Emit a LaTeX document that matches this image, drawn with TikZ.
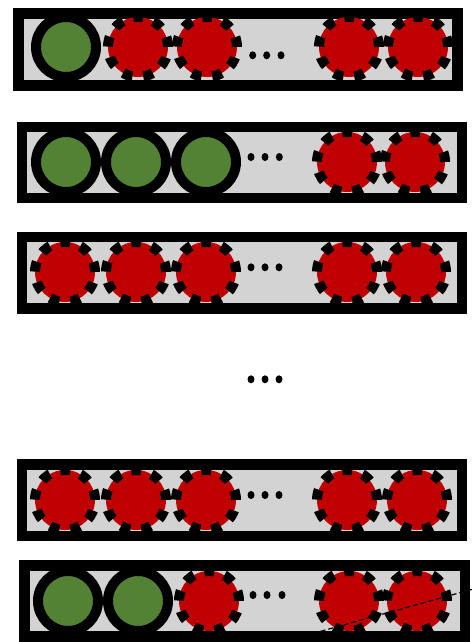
\documentclass[tikz,border=0pt]{standalone}
\usetikzlibrary{shapes.geometric}
\definecolor{boxgray}{HTML}{D3D3D3}
\definecolor{okgreen}{HTML}{548235}
\definecolor{badred}{HTML}{C00000}
\tikzset{
  rowbox/.style={draw=black, fill=boxgray, line width=10.5pt, inner sep=0pt, outer sep=0pt, rectangle},
  goodc/.style={circle, draw=black, fill=okgreen, line width=10pt, minimum size=60pt, inner sep=0pt},
  badc/.style={circle, draw=black, fill=badred, line width=10pt, minimum size=60pt, inner sep=0pt, dash pattern=on 10pt off 10.94pt},
  dotc/.style={ellipse, fill=black, minimum width=7pt, minimum height=8pt, inner sep=0pt},
  cutline/.style={draw=black, line width=1.2pt, dash pattern=on 5pt off 3pt}
}
\begin{document}
\begin{tikzpicture}[x=1pt, y=-1pt]
\useasboundingbox (0,0) rectangle (474,642);
% row boxes
\node[rowbox, minimum width=439pt, minimum height=72pt] (b1) at (238,49.5) {};
\node[rowbox, minimum width=440pt, minimum height=71pt] (b2) at (242,162.5) {};
\node[rowbox, minimum width=440pt, minimum height=71.5pt] (b3) at (242,272.75) {};
\node[rowbox, minimum width=440pt, minimum height=71.5pt] (b4) at (242,500.25) {};
\node[rowbox, minimum width=440.5pt, minimum height=71pt] (b5) at (244.75,601) {};
% row 1
\node[goodc] (c11) at (66,47) {};
\node[badc] (c12) at (138,47) {};
\node[badc] (c13) at (207,47) {};
\node[badc] (c14) at (349,47) {};
\node[badc] (c15) at (418,47) {};
\node[dotc] (d11) at (252.7,55.3) {};
\node[dotc] (d12) at (266.7,55.3) {};
\node[dotc] (d13) at (281,55.3) {};
% row 2
\node[goodc] (c21) at (66,162) {};
\node[goodc] (c22) at (136,162) {};
\node[goodc] (c23) at (206,162) {};
\node[badc] (c24) at (347,162) {};
\node[badc] (c25) at (415,162) {};
\node[dotc] (d21) at (251,157) {};
\node[dotc] (d22) at (265,157) {};
\node[dotc] (d23) at (279.3,157) {};
% row 3
\node[badc] (c31) at (65,272) {};
\node[badc] (c32) at (136,272) {};
\node[badc] (c33) at (206,272) {};
\node[badc] (c34) at (347,272) {};
\node[badc] (c35) at (416,272) {};
\node[dotc] (d31) at (251,267.3) {};
\node[dotc] (d32) at (265,267.3) {};
\node[dotc] (d33) at (279,267.3) {};
% middle dots
\node[dotc] (m1) at (251,379.3) {};
\node[dotc] (m2) at (265,379.3) {};
\node[dotc] (m3) at (279,379.3) {};
% row 4
\node[badc] (c41) at (65,500) {};
\node[badc] (c42) at (136,500) {};
\node[badc] (c43) at (206,500) {};
\node[badc] (c44) at (347,500) {};
\node[badc] (c45) at (417,500) {};
\node[dotc] (d41) at (251,495) {};
\node[dotc] (d42) at (265,495) {};
\node[dotc] (d43) at (279,495) {};
% row 5
\node[goodc] (c51) at (68,601) {};
\node[goodc] (c52) at (138,601) {};
\node[badc] (c53) at (209,601) {};
\node[badc] (c54) at (349,601) {};
\node[badc] (c55) at (417,601) {};
\node[dotc] (d51) at (253,595) {};
\node[dotc] (d52) at (267,595) {};
\node[dotc] (d53) at (282,595) {};
% dashed cut line
\coordinate (la) at (282,642);
\coordinate (lb) at (474,588.8);
\draw[cutline] (la) -- (lb);
\end{tikzpicture}
\end{document}
